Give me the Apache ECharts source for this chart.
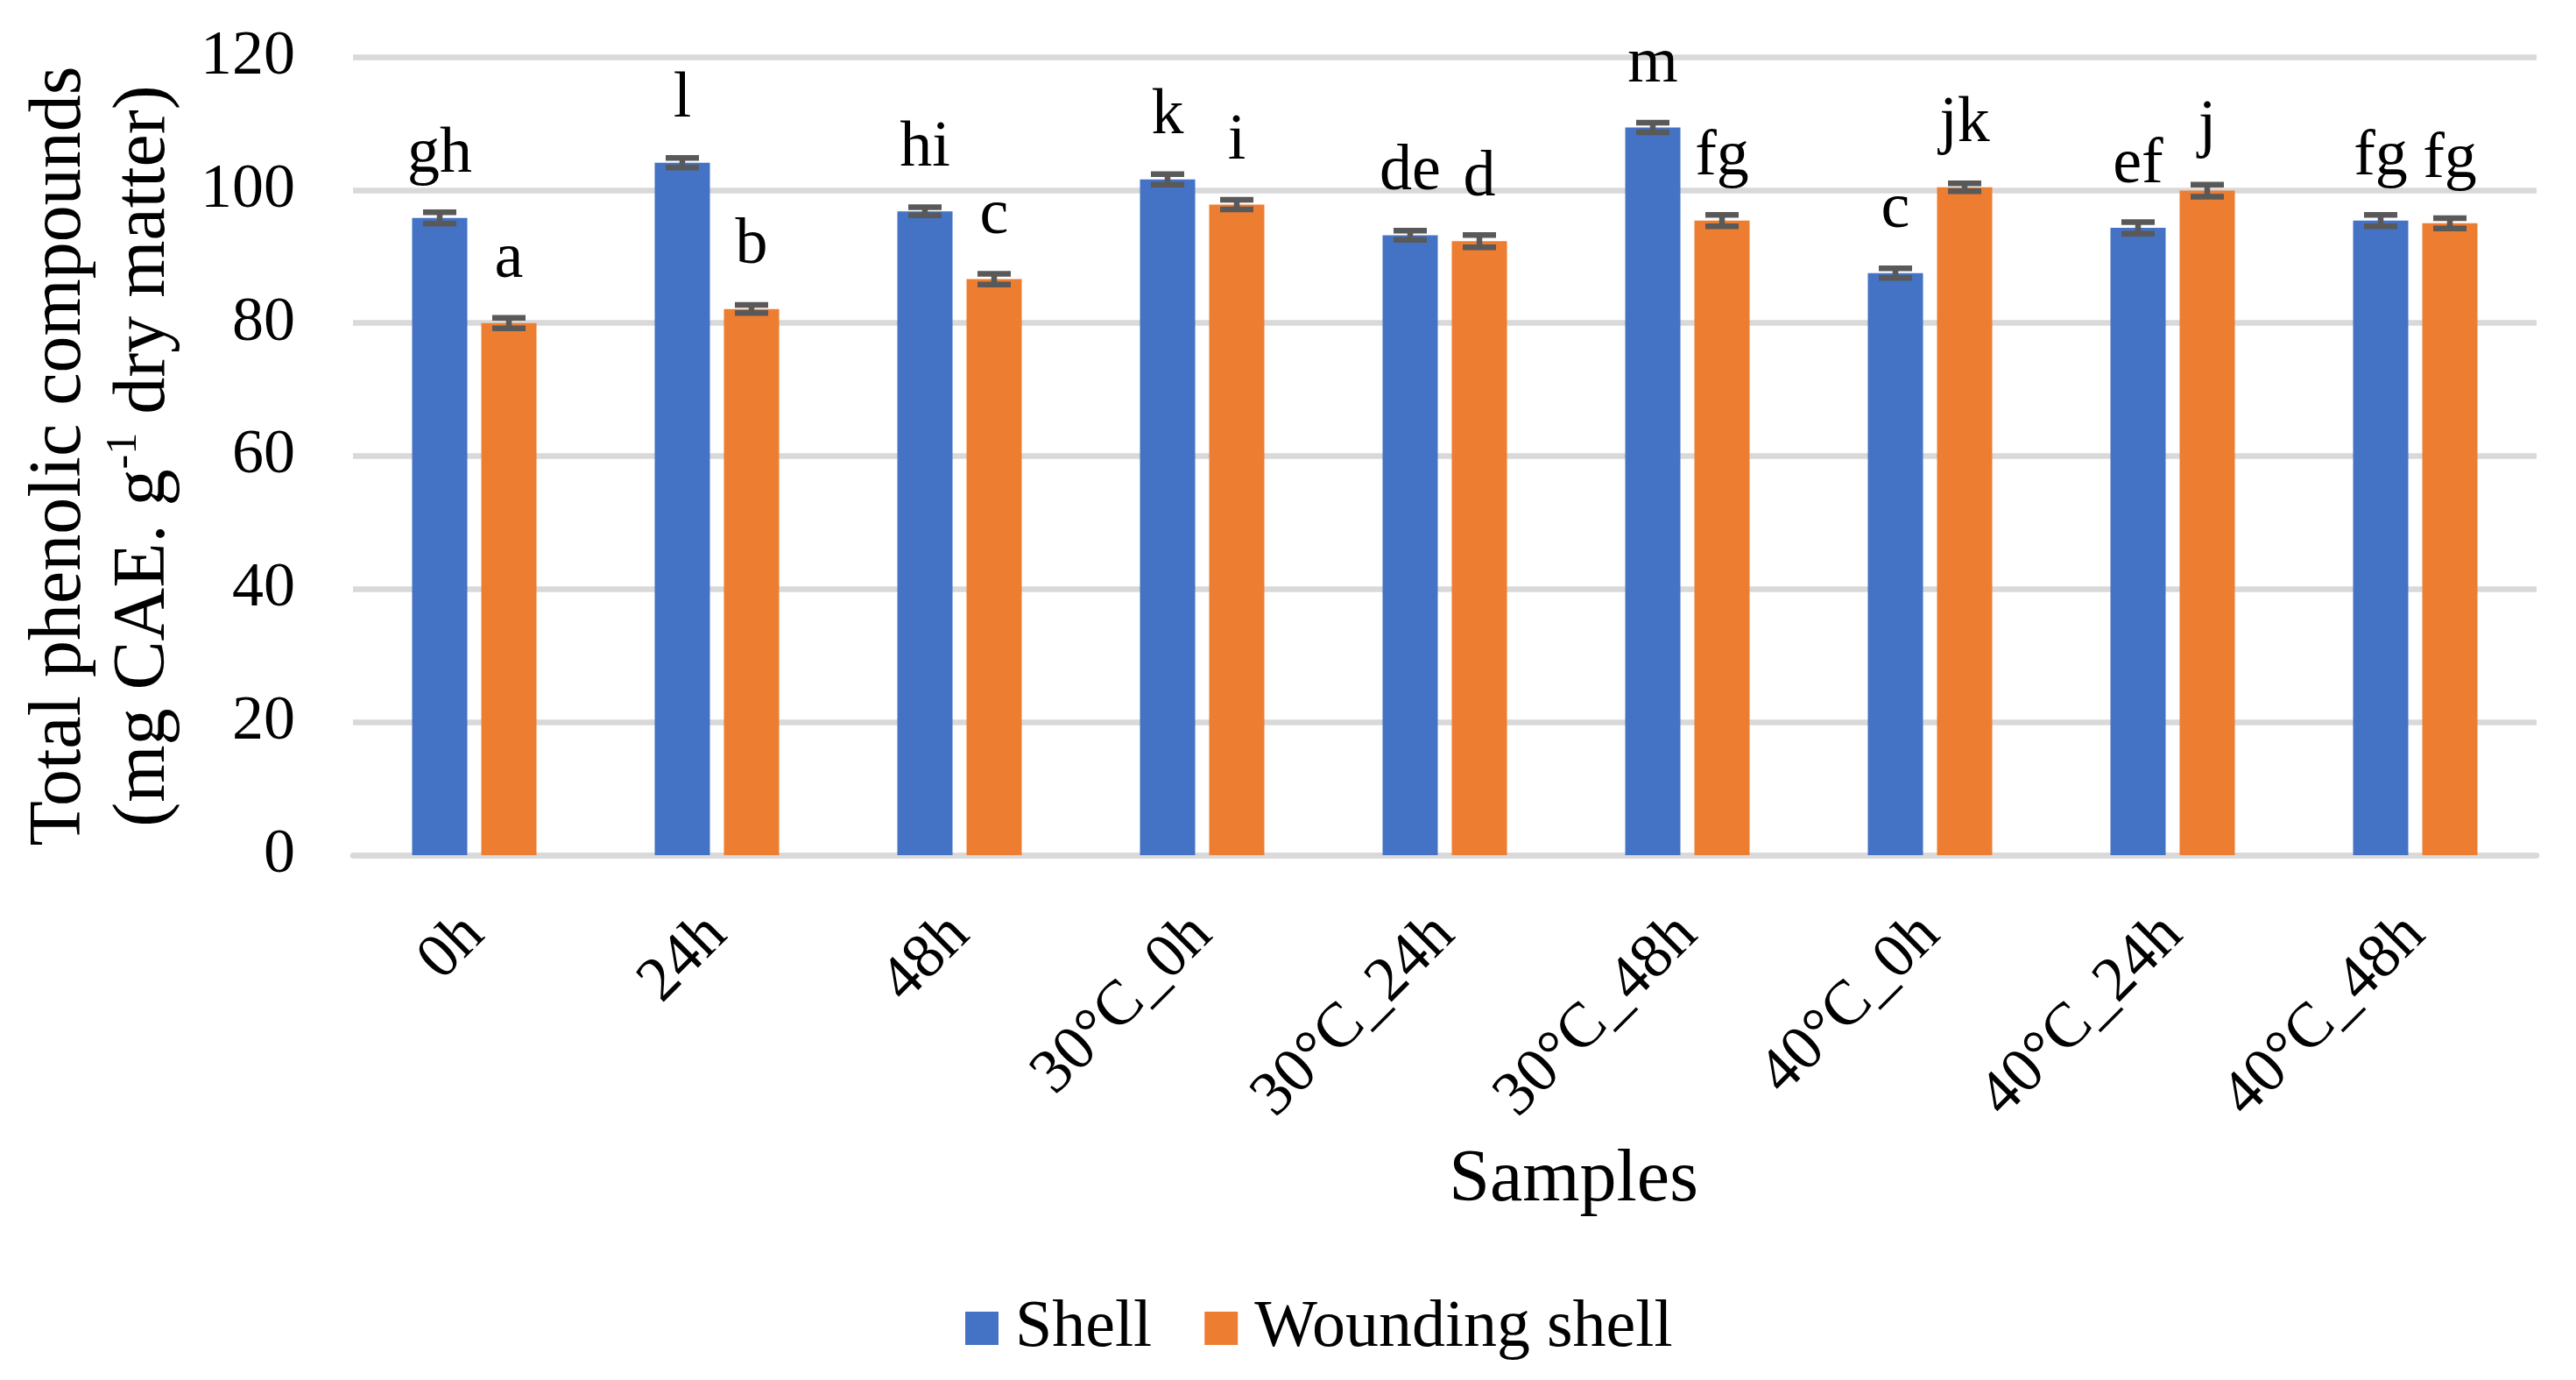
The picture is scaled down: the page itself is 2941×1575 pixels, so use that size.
<!DOCTYPE html>
<html>
<head>
<meta charset="utf-8">
<script src="https://cdn.jsdelivr.net/npm/echarts@6/dist/echarts.min.js"></script>
<style>
  html, body { margin: 0; padding: 0; background: #fff; }
  #chart { width: 2941px; height: 1575px; }
</style>
</head>
<body>
<div id="chart"></div>
<script>
// data
var samples = ['0h', '24h', '48h', '30°C_0h', '30°C_24h', '30°C_48h', '40°C_0h', '40°C_24h', '40°C_48h'];
var shell = [95.8, 104.1, 96.8, 101.6, 93.2, 109.4, 87.5, 94.3, 95.4];
var shellErr = [0.86, 0.72, 0.6, 0.79, 0.7, 0.72, 0.72, 0.86, 0.86];
var shellLetters = ['gh', 'l', 'hi', 'k', 'de', 'm', 'c', 'ef', 'fg'];
var wound = [80.0, 82.1, 86.6, 97.8, 92.3, 95.4, 100.4, 99.9, 95.0];
var woundErr = [0.79, 0.61, 0.8, 0.72, 0.92, 0.86, 0.6, 0.9, 0.77];
var woundLetters = ['a', 'b', 'c', 'i', 'd', 'fg', 'jk', 'j', 'fg'];
var yTicks = [0, 20, 40, 60, 80, 100, 120];

var font = '"Liberation Serif", "Times New Roman", serif';
var barW = 63;
var barGapPx = 16;
var gridColor = '#d9d9d9';

var myChart = echarts.init(document.getElementById('chart'));

// error bars drawn next to the bars of one series (side = -1 left bar, +1 right bar)
function errorSeries(values, errs, side) {
    return {
        type: 'custom',
        silent: true,
        z: 5,
        data: values.map(function (v, i) { return [i, v, errs[i]]; }),
        renderItem: function (params, api) {
            var i = api.value(0);
            var hi = api.coord([i, api.value(1) + api.value(2)]);
            var lo = api.coord([i, api.value(1) - api.value(2)]);
            var x = hi[0] + side * (barW + barGapPx) / 2;
            var st = { stroke: '#595959', lineWidth: 6.5 };
            var half = 19;
            return {
                type: 'group',
                children: [
                    { type: 'line', shape: { x1: x, y1: hi[1], x2: x, y2: lo[1] }, style: st },
                    { type: 'line', shape: { x1: x - half, y1: hi[1], x2: x + half, y2: hi[1] }, style: st },
                    { type: 'line', shape: { x1: x - half, y1: lo[1], x2: x + half, y2: lo[1] }, style: st }
                ]
            };
        }
    };
}

function letterLabel(letters) {
    return {
        show: true,
        position: 'top',
        distance: 35,
        fontFamily: font,
        fontSize: 74,
        color: '#000',
        formatter: function (p) { return letters[p.dataIndex]; }
    };
}

var option = {
    animation: false,
    backgroundColor: '#fff',
    color: ['#4472c4', '#ed7d31'],
    grid: {
        left: 403,
        right: 45,
        top: 65,
        bottom: 599
    },
    legend: {
        left: 1102,
        top: 1478,
        padding: 0,
        itemWidth: 38,
        itemHeight: 38,
        itemGap: 60,
        icon: 'rect',
        textStyle: { fontFamily: font, fontSize: 76, color: '#000', padding: [0, 0, 0, 14] },
        data: ['Shell', 'Wounding shell']
    },
    xAxis: {
        type: 'category',
        data: samples,
        name: 'Samples',
        nameLocation: 'middle',
        nameGap: 330,
        nameTextStyle: { fontFamily: font, fontSize: 84, color: '#000', padding: [0, 0, 0, 294] },
        axisLine: { lineStyle: { color: gridColor, width: 6.5 } },
        axisTick: { show: false },
        axisLabel: {
            rotate: 45,
            margin: 80,
            interval: 0,
            fontFamily: font,
            fontSize: 72,
            color: '#000'
        }
    },
    yAxis: {
        type: 'value',
        min: yTicks[0],
        max: yTicks[yTicks.length - 1],
        interval: 20,
        name: '{a|Total phenolic compounds}\n{a|(mg CAE. g}{s|-1}{a| dry matter)}',
        nameLocation: 'middle',
        nameRotate: 90,
        nameGap: 190,
        nameTextStyle: {
            fontFamily: font,
            fontSize: 84,
            color: '#000',
            lineHeight: 96,
            rich: {
                a: { fontFamily: font, fontSize: 84, lineHeight: 96, color: '#000' },
                s: { fontFamily: font, fontSize: 50, lineHeight: 60, verticalAlign: 'top', color: '#000' }
            }
        },
        axisLine: { show: false },
        axisTick: { show: false },
        axisLabel: { margin: 66, fontFamily: font, fontSize: 72, color: '#000' },
        splitLine: { lineStyle: { color: gridColor, width: 6.5 } }
    },
    series: [{
        name: 'Shell',
        type: 'bar',
        barWidth: barW,
        barGap: (barGapPx / barW * 100) + '%',
        data: shell,
        label: letterLabel(shellLetters)
    }, {
        name: 'Wounding shell',
        type: 'bar',
        barWidth: barW,
        data: wound,
        label: letterLabel(woundLetters)
    },
    errorSeries(shell, shellErr, -1),
    errorSeries(wound, woundErr, 1)
    ]
};
myChart.setOption(option);
</script>
</body>
</html>
